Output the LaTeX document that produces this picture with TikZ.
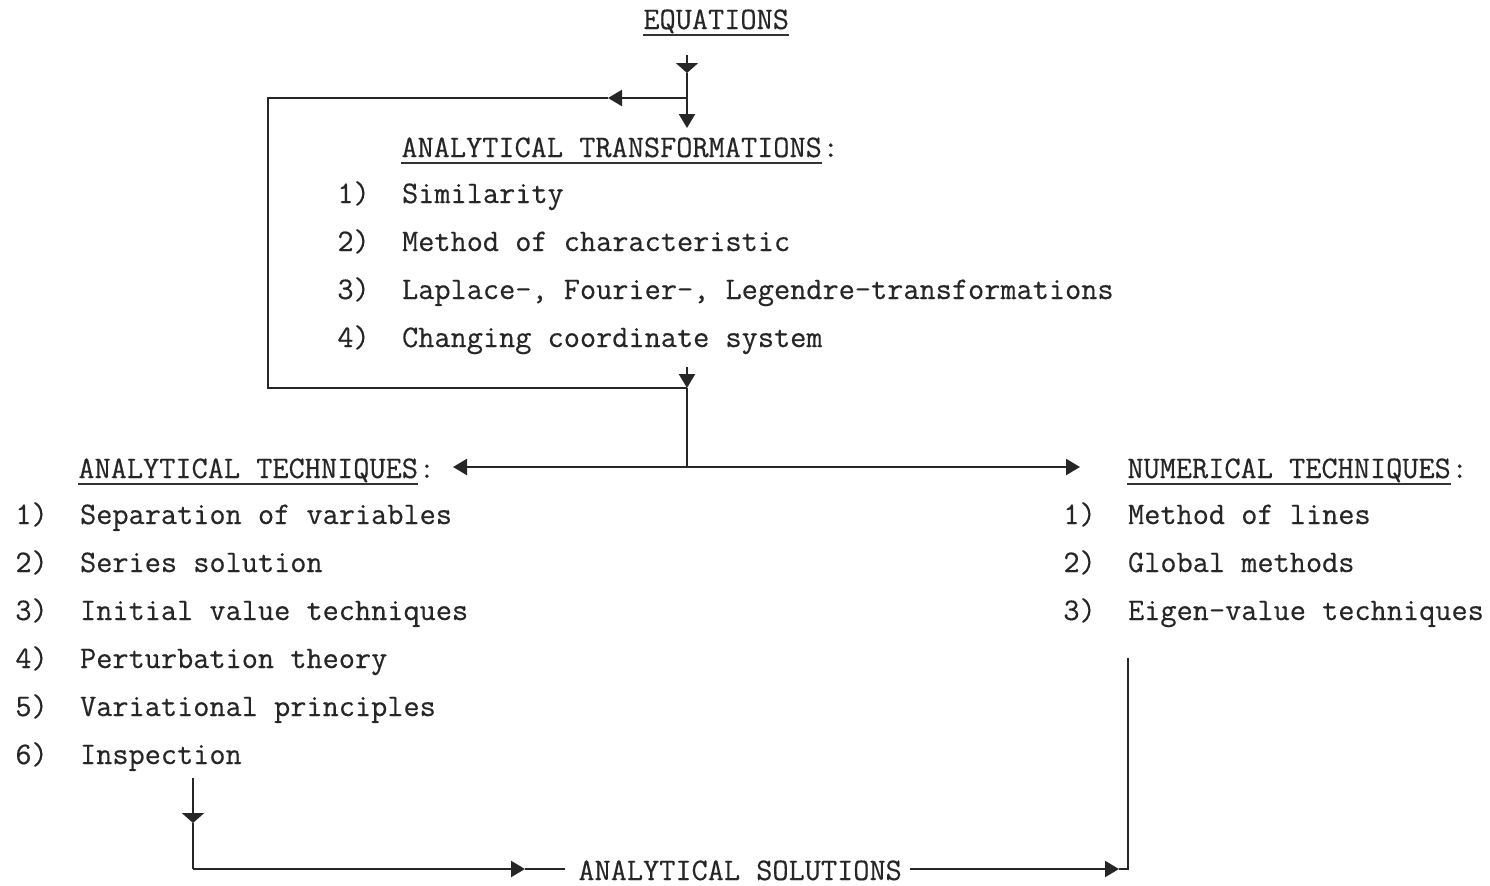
\documentclass[tikz,border=0pt]{standalone}
\usepackage{fontspec}
\newfontfamily\typewriter[FakeBold=0.4]{Latin Modern Mono}
\usetikzlibrary{arrows.meta, positioning}

\tikzset{
  txt/.style={anchor=base west, inner sep=0pt, font=\fontsize{15.7pt}{18pt}\typewriter, text=black!85},
  flow/.style={line width=1.1pt, draw=black!85},
  uline/.style={line width=0.9pt, draw=black!80},
  tip/.style={flow, -{Triangle[length=7pt, width=8pt]}},
  flattip/.style={flow, -{Triangle[length=5pt, width=11pt]}},
}

\begin{document}
\begin{tikzpicture}[x=0.5pt, y=-0.5pt]
  \useasboundingbox (0,0) rectangle (1490,885);
  % headings
  \node[txt] (eq) at (643,29) {EQUATIONS};
  \node[txt] (antr) at (401,157) {ANALYTICAL TRANSFORMATIONS};
  \node[txt] (antrc) at (antr.base east) {:};
  \node[txt] (antech) at (78,478) {ANALYTICAL TECHNIQUES};
  \node[txt] (antechc) at (antech.base east) {:};
  \node[txt] (numtech) at (1127,478) {NUMERICAL TECHNIQUES};
  \node[txt] (numtechc) at (numtech.base east) {:};
  \node[txt] (sol) at (578,880) {ANALYTICAL SOLUTIONS};
  % underlines
  \draw[uline] ([yshift=-3pt]eq.base west) -- ([yshift=-3pt]eq.base east);
  \draw[uline] ([yshift=-3pt]antr.base west) -- ([yshift=-3pt]antr.base east);
  \draw[uline] ([yshift=-3pt]antech.base west) -- ([yshift=-3pt]antech.base east);
  \draw[uline] ([yshift=-3pt]numtech.base west) -- ([yshift=-3pt]numtech.base east);
  % transformations
  \node[txt] (tr1) at (337,203) {1)\ \ Similarity};
  \node[txt] (tr2) at (337,251) {2)\ \ Method of characteristic};
  \node[txt] (tr3) at (337,299) {3)\ \ Laplace-, Fourier-, Legendre-transformations};
  \node[txt] (tr4) at (337,347) {4)\ \ Changing coordinate system};
  % analytical techniques
  \node[txt] (an1) at (15,524) {1)\ \ Separation of variables};
  \node[txt] (an2) at (15,572) {2)\ \ Series solution};
  \node[txt] (an3) at (15,620) {3)\ \ Initial value techniques};
  \node[txt] (an4) at (15,668) {4)\ \ Perturbation theory};
  \node[txt] (an5) at (15,716) {5)\ \ Variational principles};
  \node[txt] (an6) at (15,764) {6)\ \ Inspection};
  % numerical techniques
  \node[txt] (nu1) at (1063,524) {1)\ \ Method of lines};
  \node[txt] (nu2) at (1063,572) {2)\ \ Global methods};
  \node[txt] (nu3) at (1063,620) {3)\ \ Eigen-value techniques};

  % points on the connectors
  \coordinate (eqout) at (687,55);
  \coordinate (eqtip) at (687,73);
  \coordinate (split) at (687,98);
  \coordinate (trin) at (687,128);
  \coordinate (back) at (608,98);
  \coordinate (looptop) at (268,98);
  \coordinate (loopbot) at (268,388);
  \coordinate (merge) at (687,388);
  \coordinate (trout) at (687,367);
  \coordinate (fork) at (687,467);
  \coordinate (toana) at (453,467);
  \coordinate (tonum) at (1080,467);
  \coordinate (anaout) at (193,778);
  \coordinate (anatip) at (193,823);
  \coordinate (anacorner) at (193,869);
  \coordinate (solin) at (525,869);
  \coordinate (solleft) at (565,869);
  \coordinate (solright) at (910,869);
  \coordinate (numtip) at (1119,869);
  \coordinate (numcorner) at (1128,869);
  \coordinate (numout) at (1128,658);

  % connectors
  \draw[flattip] (eqout) -- (eqtip);
  \draw[flow] (eqtip) -- (split);
  \draw[tip] (split) -- (trin);
  \draw[tip] (split) -- (back);
  \draw[flow] (back) -- (looptop) -- (loopbot) -- (merge);
  \draw[tip] (trout) -- (merge);
  \draw[flow] (merge) -- (fork);
  \draw[tip] (fork) -- (toana);
  \draw[tip] (fork) -- (tonum);
  \draw[flattip] (anaout) -- (anatip);
  \draw[flow] (anatip) -- (anacorner);
  \draw[tip] (anacorner) -- (solin);
  \draw[flow] (solin) -- (solleft);
  \draw[tip] (solright) -- (numtip);
  \draw[flow] (numtip) -- (numcorner) -- (numout);
\end{tikzpicture}
\end{document}
